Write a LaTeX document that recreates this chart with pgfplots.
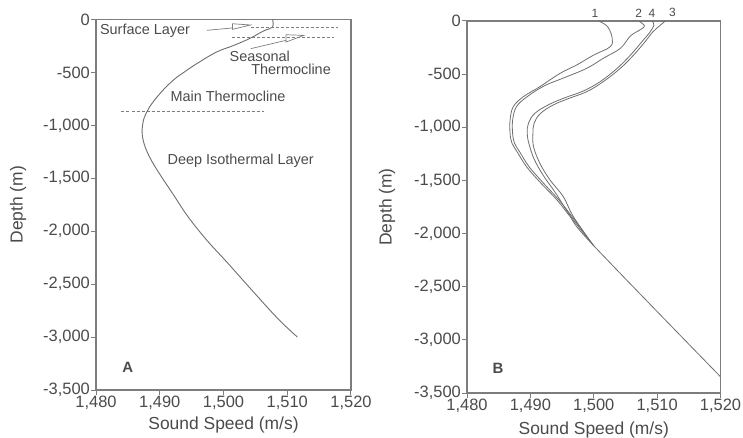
\documentclass[border=0pt]{standalone}
\usepackage{fontspec}
\setmainfont{Liberation Sans}
\usepackage{pgfplots}
\pgfplotsset{compat=1.18}
\definecolor{txtgray}{RGB}{75,75,75}
\definecolor{axgray}{RGB}{125,125,125}
\definecolor{crvgray}{RGB}{110,110,110}
\pgfplotsset{
  panel/.style={
    scale only axis,
    xmin=1480, xmax=1520, ymin=-3500, ymax=0,
    axis line style={axgray, line width=1.1bp},
    every tick/.style={axgray, line width=1bp},
    tick align=outside, tick pos=left, major tick length=5bp,
    xtick={1480,1490,1500,1510,1520},
    xticklabels={{1,480},{1,490},{1,500},{1,510},{1,520}},
    ytick={0,-500,-1000,-1500,-2000,-2500,-3000,-3500},
    yticklabels={0,-500,{-1,000},{-1,500},{-2,000},{-2,500},{-3,000},{-3,500}},
    tick label style={font=\fontsize{16.5}{17}\selectfont, text=txtgray},
    yticklabel style={inner sep=1bp},
    xticklabel style={inner sep=1bp},
    label style={font=\fontsize{17.5}{18}\selectfont, text=txtgray},
    xlabel={Sound Speed (m/s)},
    ylabel={Depth (m)},
    clip=false,
  }
}
\begin{document}
\begin{tikzpicture}
\path[use as bounding box] (0,0) rectangle (743bp,438bp);
% ---------------- Panel A ----------------
\begin{axis}[panel, at={(96bp,48bp)}, anchor=south west, width=255bp, height=370.5bp,
  xlabel style={at={(rel axis cs:0.5,0)}, anchor=center, yshift=-35bp},
  ylabel style={at={(rel axis cs:0,0.5)}, anchor=center, yshift=78bp}]
\addplot[crvgray, line width=0.9bp, smooth, tension=0.7] table {
x y
1507.7 0
1507.7 -70
1506.6 -100
1505.6 -130
1504.1 -180
1501.6 -245
1499.0 -305
1496.4 -395
1494.0 -490
1491.9 -585
1489.6 -730
1488.0 -870
1487.3 -1000
1487.4 -1140
1488.4 -1298
1490.1 -1470
1492.2 -1660
1494.4 -1860
1497.4 -2086
1500.5 -2290
1504.5 -2560
1508.6 -2830
1511.6 -3000
};
% dashed layer boundaries
\addplot[axgray, line width=0.8bp, dash pattern=on 3bp off 2bp] coordinates {(1504.25,-71) (1517.9,-71)};
\addplot[axgray, line width=0.8bp, dash pattern=on 3bp off 2bp] coordinates {(1501.4,-166) (1517.3,-166)};
\addplot[axgray, line width=0.8bp, dash pattern=on 3bp off 2bp] coordinates {(1484.0,-866) (1506.3,-866)};
% arrows and pointers
\addplot[axgray, line width=0.7bp] coordinates {(1501.4,-40) (1504.25,-52) (1501.4,-93) (1501.4,-40)};
\addplot[axgray, line width=0.7bp] coordinates {(1497.4,-102) (1501.4,-80)};
\addplot[axgray, line width=0.7bp] coordinates {(1509.8,-144) (1512.6,-150) (1509.8,-213) (1509.8,-144)};
\addplot[axgray, line width=0.7bp] coordinates {(1504.25,-276) (1509.8,-197)};
% texts
\begin{scope}[every node/.style={font=\fontsize{14.5}{15}\selectfont, text=txtgray, inner sep=0pt}]
\node[anchor=west] at (axis cs:1480.6,-109) {Surface Layer};
\node[anchor=base] at (axis cs:1505.7,-400) {Seasonal};
\node[anchor=base] at (axis cs:1510.6,-516) {Thermocline};
\node at (axis cs:1500.7,-724) {Main Thermocline};
\node at (axis cs:1502.7,-1339) {Deep Isothermal Layer};
\end{scope}
\node[font=\fontsize{15}{15}\selectfont\bfseries, text=txtgray] at (axis cs:1485.0,-3287) {A};
\end{axis}
% ---------------- Panel B ----------------
\begin{axis}[panel, at={(467bp,45bp)}, anchor=south west, width=253.5bp, height=372bp,
  xlabel style={at={(rel axis cs:0.5,0)}, anchor=center, yshift=-37bp},
  ylabel style={at={(rel axis cs:0,0.5)}, anchor=center, yshift=80bp}]
% curve 1
\addplot[crvgray, line width=0.8bp, smooth, tension=0.6] table {
x y
1500.8 0
1502.2 -54
1502.9 -160
1502.6 -242
1500.0 -320
1497.3 -414
1494.7 -492
1491.5 -618
1488.9 -712
1487.3 -806
1486.8 -932
1486.8 -1060
1487.1 -1150
1487.9 -1230
1489.4 -1371
1491.5 -1515
1494.2 -1684
1496.3 -1842
1499.9 -2108
1520 -3347
};
% curve 2
\addplot[crvgray, line width=0.8bp, smooth, tension=0.6] table {
x y
1507.1 0
1508.0 -45
1507.4 -80
1505.8 -140
1504.2 -257
1501.5 -351
1498.9 -445
1495.5 -530
1492.2 -610
1489.5 -712
1487.8 -806
1487.2 -932
1487.2 -1060
1487.5 -1150
1488.3 -1230
1489.8 -1371
1491.9 -1515
1494.5 -1684
1496.6 -1842
1499.9 -2108
};
% curve 4
\addplot[crvgray, line width=0.8bp, smooth, tension=0.6] table {
x y
1509.2 0
1509.5 -40
1508.8 -110
1507.6 -195
1505.8 -320
1503.7 -445
1501.0 -571
1498.3 -660
1495.3 -725
1492.8 -790
1490.7 -869
1489.7 -960
1489.5 -1060
1489.8 -1160
1490.6 -1300
1492.0 -1450
1494.0 -1620
1496.4 -1842
1499.9 -2108
};
% curve 3
\addplot[crvgray, line width=0.8bp, smooth, tension=0.6] table {
x y
1511.3 0
1510.3 -50
1509.2 -110
1508.1 -195
1506.3 -320
1504.2 -445
1501.5 -571
1498.9 -665
1496.0 -730
1493.6 -790
1491.6 -869
1490.6 -960
1490.4 -1060
1490.5 -1183
1491.5 -1339
1493.1 -1496
1495.2 -1653
1496.8 -1842
1499.9 -2108
};
\begin{scope}[every node/.style={font=\fontsize{12}{12}\selectfont, text=txtgray, inner sep=0pt, anchor=south}]
\node at (axis cs:1500.2,35) {1};
\node at (axis cs:1507.1,35) {2};
\node at (axis cs:1509.2,35) {4};
\node at (axis cs:1512.4,35) {3};
\end{scope}
\node[font=\fontsize{15}{15}\selectfont\bfseries, text=txtgray] at (axis cs:1484.9,-3265) {B};
\end{axis}
\end{tikzpicture}
\end{document}
